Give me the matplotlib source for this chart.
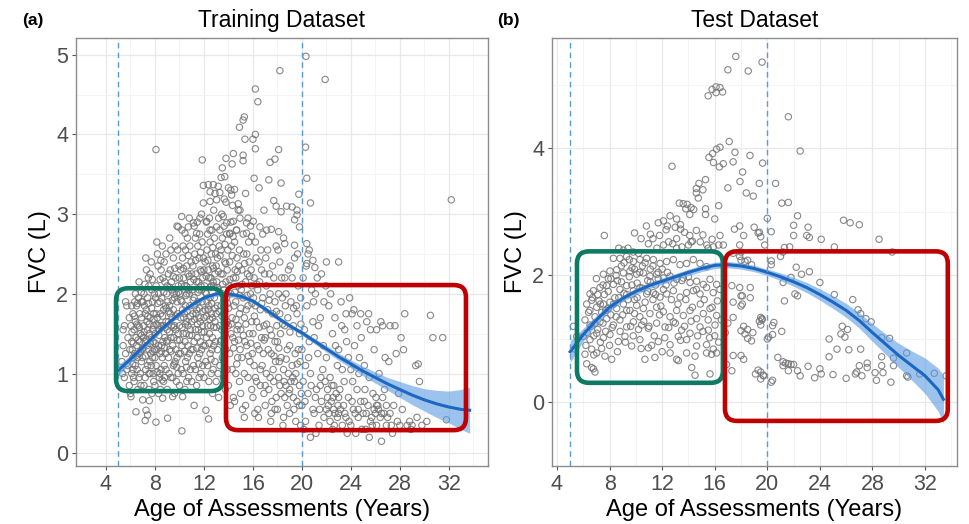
import numpy as np
import matplotlib
matplotlib.use("Agg")
import matplotlib.pyplot as plt
from matplotlib.patches import FancyBboxPatch
from matplotlib.transforms import IdentityTransform

plt.rcParams['font.family'] = ['Liberation Sans', 'DejaVu Sans']

# ---------------- training set: (age in years, FVC in L)
train_high = [
    (20.33, 4.98), (18.2, 4.80), (21.9, 4.69), (16.2, 4.57), (16.4, 4.41), (15.3, 4.22), (15.2, 4.18),
    (14.9, 4.09), (16.2, 4.00), (16.0, 3.94), (15.35, 3.94), (16.2, 3.82), (18.1, 3.81), (20.3, 3.84),
    (8.08, 3.81), (11.86, 3.68), (13.8, 3.70), (14.4, 3.76), (14.3, 3.63), (15.2, 3.74), (15.2, 3.67),
    (17.4, 3.65), (17.8, 3.69), (13.4, 3.46), (13.7, 3.47), (13.5, 3.58), (16.1, 3.45), (16.5, 3.33),
    (17.3, 3.43), (18.3, 3.39), (20.4, 3.45), (11.95, 3.36), (12.35, 3.37), (12.76, 3.37), (13.17, 3.35),
    (12.9, 3.26), (13.3, 3.27), (14.0, 3.33), (14.2, 3.30), (14.5, 3.31), (12.5, 3.28), (11.95, 3.14),
    (12.5, 3.16), (13.03, 3.18), (13.66, 3.19), (14.26, 3.24), (14.8, 3.13), (15.4, 3.26), (14.94, 3.05),
    (14.34, 3.11), (16.9, 3.05), (17.7, 3.17), (17.9, 3.10), (18.3, 3.03), (18.75, 3.10), (19.2, 3.09),
    (19.6, 3.05), (19.75, 3.25), (19.6, 2.99), (20.7, 3.14), (20.4, 2.63), (20.6, 2.55), (20.9, 2.42),
    (21.06, 2.33), (20.4, 2.38), (22.0, 2.40), (23.0, 2.40), (17.5, 2.81), (18.1, 2.78), (18.5, 2.70),
    (18.6, 2.63), (19.4, 2.61), (19.8, 2.84), (19.4, 2.93), (10.18, 2.97), (9.9, 2.84), (10.72, 2.84),
    (10.45, 2.76), (11.13, 2.89), (11.67, 2.95), (11.4, 2.76), (12.22, 2.91), (12.49, 2.80), (13.03, 2.84),
    (13.58, 2.97), (13.85, 2.89), (14.4, 2.91), (14.94, 2.95), (15.48, 2.89), (16.03, 2.91), (16.57, 2.84),
    (17.12, 2.80), (14.12, 2.76), (14.67, 2.80), (15.48, 2.76), (15.89, 2.72), (32.2, 3.18),
]

train_core = [
    # 5-6
    (5.3, 1.15), (5.4, 1.35), (5.5, 0.95), (5.5, 1.6), (5.6, 1.25), (5.7, 1.85), (5.7, 1.05), (5.8, 1.45),
    (5.9, 1.7), (5.9, 0.85), (5.4, 1.55), (5.6, 1.9), (5.8, 1.1), (5.95, 1.3), (5.35, 1.0),
    # 6-7
    (6.0, 0.75), (6.1, 1.0), (6.1, 1.4), (6.2, 1.75), (6.2, 1.2), (6.3, 0.9), (6.3, 1.55), (6.4, 2.0),
    (6.4, 1.1), (6.5, 1.35), (6.5, 1.85), (6.6, 0.8), (6.6, 1.6), (6.7, 1.25), (6.7, 2.15), (6.8, 1.0),
    (6.8, 1.5), (6.9, 1.7), (6.9, 1.15), (6.05, 1.6), (6.15, 1.3), (6.25, 0.95), (6.35, 1.9), (6.45, 1.45),
    (6.55, 1.05), (6.65, 1.95), (6.75, 1.4), (6.85, 0.85), (6.95, 1.3), (6.45, 0.52), (6.04, 0.71),
    (6.2, 1.05), (6.6, 1.2), (6.9, 1.9), (6.4, 1.65), (6.7, 0.95), (6.1, 1.85), (6.35, 1.25), (6.75, 1.75),
    # 7-8
    (7.0, 0.67), (7.0, 1.2), (7.1, 1.6), (7.1, 2.0), (7.2, 0.95), (7.2, 1.4), (7.3, 1.8), (7.3, 2.3),
    (7.4, 1.1), (7.4, 1.55), (7.5, 0.8), (7.5, 1.3), (7.5, 2.1), (7.6, 1.7), (7.6, 1.0), (7.7, 1.45),
    (7.7, 2.4), (7.8, 1.2), (7.8, 1.9), (7.9, 0.9), (7.9, 1.6), (7.05, 1.45), (7.15, 1.85), (7.25, 1.05),
    (7.35, 1.65), (7.45, 2.2), (7.55, 1.5), (7.65, 1.25), (7.75, 0.75), (7.85, 1.4), (7.95, 2.0),
    (7.27, 0.54), (7.54, 0.66), (7.1, 0.85), (7.4, 1.95), (7.7, 1.1), (7.9, 1.75), (7.2, 1.75), (7.5, 1.0),
    (7.8, 1.55), (7.6, 2.25), (7.35, 1.35), (7.85, 1.0), (7.0, 1.9), (7.95, 1.3), (7.4, 0.48), (7.2, 0.41),
    (7.25, 2.45), (7.75, 2.05),
    # 8-9
    (8.0, 0.85), (8.0, 1.5), (8.1, 1.1), (8.1, 2.1), (8.2, 1.7), (8.2, 2.5), (8.3, 0.75), (8.3, 1.35),
    (8.4, 1.9), (8.4, 1.0), (8.5, 1.6), (8.5, 2.3), (8.6, 1.2), (8.6, 2.6), (8.7, 0.9), (8.7, 1.8),
    (8.8, 1.45), (8.8, 2.15), (8.9, 1.05), (8.9, 1.65), (8.05, 1.95), (8.15, 1.3), (8.25, 2.35),
    (8.35, 1.55), (8.45, 0.8), (8.55, 1.95), (8.65, 1.4), (8.75, 2.4), (8.85, 1.25), (8.95, 2.0),
    (8.63, 0.69), (8.1, 1.75), (8.4, 1.25), (8.7, 1.6), (8.9, 2.5), (8.3, 2.0), (8.5, 1.05), (8.8, 0.95),
    (8.15, 2.65), (8.45, 1.75), (8.75, 1.1), (8.0, 1.2), (8.35, 0.95), (8.65, 2.2), (8.95, 1.4),
    (8.55, 1.35), (8.25, 1.6), (8.85, 1.85), (8.08, 0.39),
    # 9-10
    (9.0, 0.8), (9.0, 1.55), (9.1, 2.25), (9.1, 1.2), (9.2, 1.85), (9.2, 2.7), (9.3, 0.95), (9.3, 1.45),
    (9.4, 2.05), (9.4, 1.7), (9.5, 1.1), (9.5, 2.45), (9.6, 0.75), (9.6, 1.6), (9.7, 2.2), (9.7, 1.3),
    (9.8, 1.9), (9.8, 2.85), (9.9, 1.0), (9.9, 1.5), (9.05, 1.9), (9.15, 1.0), (9.25, 2.3), (9.35, 1.6),
    (9.45, 1.35), (9.55, 2.0), (9.65, 2.6), (9.75, 0.9), (9.85, 1.75), (9.95, 2.35), (9.2, 1.3),
    (9.44, 0.71), (9.6, 1.95), (9.8, 1.2), (9.0, 2.1), (9.3, 2.55), (9.5, 1.8), (9.7, 1.55), (9.9, 2.1),
    (9.1, 1.65), (9.45, 0.95), (9.65, 1.15), (9.85, 2.55), (9.25, 1.75), (9.55, 1.45), (9.95, 1.25),
    (9.35, 2.15), (9.75, 2.0), (9.03, 0.44),
    # 10-11
    (10.0, 0.85), (10.0, 1.6), (10.1, 2.3), (10.1, 1.25), (10.2, 1.9), (10.2, 2.8), (10.3, 1.0),
    (10.3, 1.5), (10.4, 2.1), (10.4, 1.75), (10.5, 1.15), (10.5, 2.55), (10.6, 0.9), (10.6, 1.65),
    (10.7, 2.25), (10.7, 1.35), (10.8, 2.0), (10.8, 2.95), (10.9, 1.05), (10.9, 1.55), (10.05, 2.0),
    (10.15, 1.05), (10.25, 2.45), (10.35, 1.7), (10.45, 1.4), (10.55, 2.1), (10.65, 2.7), (10.75, 0.95),
    (10.85, 1.85), (10.95, 2.4), (10.2, 1.35), (10.26, 0.71), (10.6, 2.0), (10.8, 1.25), (10.0, 2.2),
    (10.3, 2.6), (10.5, 1.85), (10.7, 1.6), (10.9, 2.15), (10.1, 1.7), (10.45, 0.8), (10.65, 1.2),
    (10.85, 2.6), (10.25, 1.8), (10.55, 1.5), (10.95, 1.3), (10.35, 2.2), (10.75, 2.05), (10.2, 0.28),
    (10.6, 2.35),
    # 11-12
    (11.0, 0.9), (11.0, 1.65), (11.1, 2.35), (11.1, 1.3), (11.2, 1.95), (11.2, 2.85), (11.3, 1.05),
    (11.3, 1.55), (11.4, 2.15), (11.4, 1.8), (11.5, 1.2), (11.5, 2.6), (11.6, 0.95), (11.6, 1.7),
    (11.7, 2.3), (11.7, 1.4), (11.8, 2.05), (11.8, 3.0), (11.9, 1.1), (11.9, 1.6), (11.05, 2.05),
    (11.15, 1.1), (11.25, 2.5), (11.35, 1.75), (11.45, 1.45), (11.55, 2.15), (11.65, 2.75), (11.75, 1.0),
    (11.85, 1.9), (11.95, 2.45), (11.2, 1.4), (11.4, 0.85), (11.6, 2.05), (11.8, 1.3), (11.0, 2.25),
    (11.3, 2.7), (11.5, 1.9), (11.7, 1.65), (11.9, 2.2), (11.1, 1.75), (11.45, 2.9), (11.65, 1.25),
    (11.85, 2.65), (11.25, 1.85), (11.55, 1.55), (11.95, 1.35), (11.35, 2.25), (11.75, 2.1), (11.2, 0.6),
    (11.6, 2.45),
    # 12-13
    (12.0, 0.95), (12.0, 1.7), (12.1, 2.4), (12.1, 1.35), (12.2, 2.0), (12.2, 2.9), (12.3, 1.1),
    (12.3, 1.6), (12.4, 2.2), (12.4, 1.85), (12.5, 1.25), (12.5, 2.65), (12.6, 1.0), (12.6, 1.75),
    (12.7, 2.35), (12.7, 1.45), (12.8, 2.1), (12.8, 3.05), (12.9, 1.15), (12.9, 1.65), (12.05, 2.1),
    (12.15, 1.15), (12.25, 2.55), (12.35, 1.8), (12.45, 1.5), (12.55, 2.2), (12.65, 2.8), (12.75, 1.05),
    (12.85, 1.95), (12.95, 2.5), (12.2, 1.45), (12.4, 0.9), (12.6, 2.1), (12.8, 1.35), (12.0, 2.3),
    (12.3, 2.75), (12.5, 1.95), (12.7, 1.7), (12.9, 2.25), (12.1, 1.8), (12.45, 2.95), (12.65, 1.3),
    (12.85, 2.7), (12.25, 1.9), (12.55, 1.6), (12.95, 1.4), (12.35, 2.3), (12.75, 2.15), (12.7, 0.75),
    (12.6, 2.5), (12.16, 0.54), (12.38, 0.43),
    # 13-14
    (13.0, 0.9), (13.0, 1.75), (13.1, 2.45), (13.1, 1.3), (13.2, 2.05), (13.2, 2.95), (13.3, 1.1),
    (13.3, 1.6), (13.4, 2.25), (13.4, 1.85), (13.5, 1.2), (13.5, 2.7), (13.6, 0.95), (13.6, 1.75),
    (13.7, 2.4), (13.7, 1.5), (13.8, 2.15), (13.8, 3.15), (13.9, 1.05), (13.9, 1.65), (13.05, 2.15),
    (13.15, 1.0), (13.25, 2.6), (13.35, 1.4), (13.45, 1.55), (13.55, 2.25), (13.65, 2.85), (13.75, 0.8),
    (13.85, 1.95), (13.95, 2.55), (13.2, 0.7), (13.4, 2.55), (13.6, 2.05), (13.8, 1.3), (13.0, 2.35),
    (13.3, 2.8), (13.5, 2.0), (13.7, 1.8), (13.9, 2.3), (13.1, 1.85), (13.45, 3.0), (13.65, 1.25),
    (13.85, 2.75),
    # 14-15
    (14.0, 0.85), (14.0, 1.6), (14.1, 2.4), (14.1, 1.25), (14.2, 2.0), (14.2, 2.9), (14.3, 1.05),
    (14.3, 1.7), (14.4, 2.2), (14.4, 0.7), (14.5, 1.4), (14.5, 2.65), (14.6, 1.9), (14.6, 1.0),
    (14.7, 2.45), (14.7, 1.55), (14.8, 2.1), (14.8, 3.05), (14.9, 0.9), (14.9, 1.75), (14.05, 2.1),
    (14.15, 0.6), (14.25, 2.6), (14.35, 1.45), (14.45, 1.85), (14.55, 2.3), (14.65, 2.8), (14.75, 1.2),
    (14.85, 2.35), (14.95, 1.3), (14.2, 1.5), (14.5, 0.65), (14.8, 1.6), (14.1, 2.75), (14.6, 2.2),
    (14.9, 2.55),
    # 15-16
    (15.0, 0.75), (15.0, 1.55), (15.1, 2.3), (15.1, 1.2), (15.2, 1.95), (15.2, 2.75), (15.3, 1.0),
    (15.3, 1.7), (15.4, 2.15), (15.4, 0.6), (15.5, 1.35), (15.5, 2.5), (15.6, 1.85), (15.6, 0.95),
    (15.7, 2.4), (15.7, 1.5), (15.8, 2.0), (15.8, 2.85), (15.9, 0.8), (15.9, 1.65), (15.05, 2.05),
    (15.15, 0.55), (15.25, 2.5), (15.35, 1.4), (15.45, 1.8), (15.55, 2.25), (15.65, 2.65), (15.75, 1.15),
    (15.85, 2.3), (15.95, 1.25), (15.3, 0.45), (15.6, 2.95), (15.9, 2.1),
]

# the crowded middle of the training cloud
train_dense = [
    (6.12, 1.52), (6.22, 1.38), (6.32, 1.72), (6.42, 1.22), (6.52, 1.62), (6.62, 1.42), (6.72, 1.58),
    (6.82, 1.28), (6.92, 1.48), (6.18, 1.12), (6.58, 1.88), (6.88, 2.02),
    (7.02, 1.32), (7.12, 1.52), (7.22, 1.22), (7.32, 1.42), (7.42, 1.72), (7.52, 1.62), (7.62, 1.38),
    (7.72, 1.82), (7.82, 1.28), (7.92, 1.68), (7.18, 2.12), (7.48, 1.88), (7.78, 2.18), (7.58, 1.15),
    (8.02, 1.38), (8.12, 1.62), (8.22, 1.88), (8.32, 1.48), (8.42, 2.18), (8.52, 1.28), (8.62, 1.72),
    (8.72, 2.02), (8.82, 1.58), (8.92, 1.82), (8.18, 1.02), (8.48, 2.42), (8.78, 1.32), (8.58, 0.92),
    (9.02, 1.42), (9.12, 1.78), (9.22, 2.08), (9.32, 1.28), (9.42, 1.92), (9.52, 1.58), (9.62, 2.32),
    (9.72, 1.72), (9.82, 1.42), (9.92, 2.02), (9.18, 1.52), (9.48, 2.22), (9.78, 1.08), (9.58, 1.12),
    (10.02, 1.42), (10.12, 1.92), (10.22, 1.58), (10.32, 2.32), (10.42, 1.28), (10.52, 1.98),
    (10.62, 1.78), (10.72, 2.48), (10.82, 1.48), (10.92, 1.72), (10.18, 2.12), (10.48, 1.62),
    (10.78, 2.22), (10.58, 1.08),
    (11.02, 1.48), (11.12, 1.92), (11.22, 1.68), (11.32, 2.42), (11.42, 1.32), (11.52, 2.02),
    (11.62, 1.82), (11.72, 2.52), (11.82, 1.52), (11.92, 1.78), (11.18, 2.18), (11.48, 1.62),
    (11.78, 2.28), (11.58, 1.12),
    (12.02, 1.52), (12.12, 2.02), (12.22, 1.72), (12.32, 2.42), (12.42, 1.38), (12.52, 2.08),
    (12.62, 1.88), (12.72, 2.58), (12.82, 1.58), (12.92, 1.82), (12.18, 2.22), (12.48, 1.68),
    (12.78, 2.32), (12.58, 1.18),
    (13.02, 1.58), (13.12, 2.08), (13.22, 1.78), (13.32, 2.48), (13.42, 1.42), (13.52, 2.12),
    (13.62, 1.92), (13.72, 2.62), (13.82, 1.62), (13.92, 1.88), (13.18, 2.28), (13.48, 1.72),
    (13.78, 2.38), (13.58, 1.18),
    (14.02, 1.82), (14.12, 2.18), (14.22, 1.62), (14.32, 2.48), (14.42, 1.32), (14.52, 2.02),
    (14.62, 1.68), (14.72, 2.28), (14.82, 1.42), (14.92, 1.98), (14.38, 2.72), (14.68, 1.12),
    (15.02, 1.82), (15.12, 2.12), (15.22, 1.48), (15.32, 2.38), (15.42, 1.62), (15.52, 1.98),
    (15.62, 1.22), (15.72, 2.22), (15.82, 1.38), (15.92, 1.88),
    (16.12, 1.72), (16.32, 2.12), (16.52, 1.58), (16.72, 1.88), (16.92, 1.42), (17.12, 1.62),
    (17.32, 1.92), (17.52, 1.48), (17.72, 1.22), (17.92, 1.78), (18.12, 1.32), (18.42, 1.62),
    (18.72, 1.18), (19.02, 1.52), (19.32, 1.82), (19.62, 1.12), (19.92, 1.62),
    (16.2, 0.95), (16.6, 1.05), (17.0, 0.85), (17.4, 0.95), (17.8, 0.55), (18.2, 0.85), (18.6, 0.7),
    (19.0, 0.8), (19.4, 0.9), (19.8, 0.6), (21.1, 0.7), (21.5, 0.85), (22.1, 0.7), (22.6, 0.55),
    (23.0, 0.7), (23.5, 0.5), (24.1, 0.65), (24.6, 0.55), (25.1, 0.65), (25.6, 0.4), (26.1, 0.6),
    (26.5, 0.5), (26.9, 0.6), (27.2, 0.5),
]

train_tail = [
    # 16-17
    (16.0, 0.7), (16.0, 1.5), (16.1, 2.2), (16.1, 1.1), (16.2, 1.85), (16.2, 2.65), (16.3, 0.9),
    (16.3, 1.65), (16.4, 2.05), (16.4, 0.55), (16.5, 1.3), (16.5, 2.4), (16.6, 1.8), (16.6, 0.85),
    (16.7, 2.3), (16.7, 1.45), (16.8, 1.95), (16.8, 2.75), (16.9, 0.75), (16.9, 1.6), (16.05, 1.95),
    (16.15, 0.5), (16.35, 1.35), (16.55, 2.15), (16.75, 1.1), (16.95, 2.25), (16.45, 0.45), (16.25, 2.45),
    (16.65, 2.55), (16.85, 1.25),
    # 17-18
    (17.0, 0.6), (17.0, 1.45), (17.1, 2.1), (17.1, 1.0), (17.2, 1.8), (17.2, 2.55), (17.3, 0.8),
    (17.4, 1.55), (17.4, 2.0), (17.5, 0.5), (17.5, 1.25), (17.6, 2.35), (17.6, 1.75), (17.7, 0.9),
    (17.7, 2.2), (17.8, 1.4), (17.8, 1.9), (17.9, 0.7), (17.9, 2.6), (17.05, 2.45), (17.25, 1.3),
    (17.45, 0.4), (17.65, 1.05), (17.85, 1.15), (17.35, 2.25), (17.55, 0.65), (17.95, 1.6),
    # 18-19
    (18.0, 0.55), (18.0, 1.4), (18.1, 2.0), (18.1, 0.95), (18.2, 1.75), (18.2, 2.4), (18.3, 0.75),
    (18.3, 1.2), (18.4, 1.95), (18.5, 0.45), (18.5, 1.05), (18.6, 2.2), (18.6, 1.6), (18.7, 0.85),
    (18.7, 2.0), (18.8, 1.3), (18.8, 0.6), (18.9, 2.3), (18.9, 1.0), (18.05, 2.55), (18.25, 1.5),
    (18.45, 0.35), (18.65, 1.85), (18.85, 1.7), (18.35, 2.2), (18.55, 0.9), (18.95, 0.75), (18.15, 1.15),
    # 19-20
    (19.0, 0.5), (19.0, 1.35), (19.1, 1.9), (19.1, 0.9), (19.2, 2.2), (19.2, 1.1), (19.3, 0.7),
    (19.3, 1.6), (19.4, 2.45), (19.5, 0.4), (19.5, 1.0), (19.6, 1.75), (19.6, 0.65), (19.7, 2.1),
    (19.7, 1.3), (19.8, 0.85), (19.8, 1.5), (19.9, 0.35), (19.9, 1.95), (19.05, 2.35), (19.25, 0.95),
    (19.45, 1.25), (19.65, 2.5), (19.85, 1.15), (19.35, 0.55), (19.55, 1.85), (19.95, 0.75),
    # 20-21
    (20.0, 0.6), (20.0, 1.3), (20.1, 0.9), (20.1, 2.2), (20.2, 1.55), (20.3, 0.4), (20.3, 1.1),
    (20.4, 1.85), (20.5, 0.75), (20.5, 2.5), (20.6, 1.4), (20.7, 0.2), (20.7, 1.0), (20.8, 2.05),
    (20.9, 0.55), (20.9, 1.65), (20.15, 0.3), (20.35, 2.35), (20.55, 1.2), (20.75, 0.85), (20.95, 1.9),
    (20.25, 0.65),
    # 21-22
    (21.0, 0.5), (21.0, 1.45), (21.1, 2.0), (21.2, 0.8), (21.3, 1.25), (21.4, 0.35), (21.5, 1.7),
    (21.6, 0.65), (21.6, 2.25), (21.7, 1.05), (21.8, 0.45), (21.8, 1.9), (21.9, 0.9), (21.15, 0.25),
    (21.35, 1.6), (21.55, 0.95), (21.75, 1.35), (21.95, 2.1), (21.45, 0.55), (21.25, 2.2),
    # 22-23
    (22.0, 0.55), (22.0, 1.2), (22.1, 0.8), (22.2, 1.85), (22.3, 0.4), (22.3, 0.95), (22.4, 0.65),
    (22.5, 1.5), (22.5, 0.3), (22.6, 0.85), (22.7, 0.5), (22.7, 1.7), (22.8, 0.75), (22.9, 1.1),
    (22.9, 0.45), (22.15, 0.6), (22.35, 2.0), (22.55, 0.7), (22.75, 1.35), (22.95, 0.6), (22.45, 0.85),
    (22.65, 0.35), (22.2, 0.5),
    # 23-24
    (23.0, 0.5), (23.0, 1.3), (23.1, 0.8), (23.2, 1.9), (23.3, 0.35), (23.3, 1.05), (23.4, 0.6),
    (23.5, 1.55), (23.6, 0.45), (23.6, 1.75), (23.7, 0.25), (23.8, 1.2), (23.8, 0.7), (23.9, 1.95),
    (23.15, 0.55), (23.45, 0.9), (23.65, 1.4), (23.85, 0.4), (23.25, 1.6),
    # 24-25
    (24.0, 0.35), (24.0, 1.05), (24.1, 1.75), (24.2, 0.55), (24.3, 1.35), (24.4, 0.25), (24.5, 0.8),
    (24.5, 1.6), (24.6, 0.45), (24.7, 1.2), (24.8, 0.65), (24.8, 1.75), (24.9, 0.3), (24.15, 0.9),
    (24.35, 0.5), (24.65, 1.0), (24.85, 1.45), (24.25, 1.8),
    # 25-26
    (25.0, 0.5), (25.1, 1.1), (25.2, 0.3), (25.3, 1.65), (25.4, 0.6), (25.5, 0.95), (25.5, 0.2),
    (25.6, 1.55), (25.7, 0.45), (25.8, 0.75), (25.9, 1.3), (25.9, 0.55), (25.25, 0.5), (25.45, 1.75),
    (25.75, 0.35), (25.15, 0.8),
    # 26-27
    (26.0, 0.5), (26.1, 1.55), (26.1, 0.35), (26.2, 0.6), (26.3, 1.0), (26.4, 0.45), (26.5, 0.15),
    (26.6, 0.7), (26.6, 1.6), (26.7, 0.5), (26.8, 1.2), (26.9, 0.35), (26.25, 0.55), (26.45, 1.65),
    (26.75, 0.8), (26.05, 0.7),
    # 27 and older
    (27.0, 0.45), (27.1, 1.15), (27.2, 1.6), (27.3, 0.35), (27.5, 0.6), (27.6, 1.6), (27.8, 0.4),
    (27.9, 0.75), (27.4, 0.25), (27.7, 1.25), (28.0, 0.35), (28.1, 1.45), (28.2, 0.55), (28.3, 1.3),
    (28.4, 1.75), (28.6, 0.35), (28.8, 0.4), (28.9, 0.3), (29.0, 0.35), (29.3, 1.1), (29.5, 1.12),
    (29.6, 0.9), (29.4, 0.45), (29.8, 0.35), (30.5, 1.73), (30.7, 1.45), (31.5, 1.45), (31.8, 0.42),
    (30.2, 0.4),
]

# loess fit with confidence band, training set
train_fit_age = [5, 6, 7, 8, 9, 10, 11, 12, 13, 14, 15, 16, 17, 18, 19, 20, 21, 22, 23, 24, 25, 26, 27,
                 28, 29, 30, 31, 32, 33, 33.7]
train_fit_fvc = [1.04, 1.18, 1.33, 1.48, 1.62, 1.75, 1.86, 1.95, 2.00, 2.00, 1.97, 1.91, 1.81, 1.70, 1.60,
                 1.51, 1.41, 1.31, 1.21, 1.12, 1.03, 0.95, 0.87, 0.80, 0.73, 0.67, 0.62, 0.58, 0.55, 0.54]
train_fit_se = [0.07, 0.05, 0.04, 0.03, 0.03, 0.03, 0.03, 0.03, 0.03, 0.03, 0.03, 0.03, 0.03, 0.03, 0.03,
                0.03, 0.035, 0.04, 0.045, 0.05, 0.06, 0.07, 0.08, 0.1, 0.12, 0.14, 0.17, 0.2, 0.25, 0.29]

# ---------------- test set
test_high = [
    (17.6, 5.45), (19.6, 5.36), (17.0, 5.24), (18.55, 5.22), (15.5, 4.83), (15.8, 4.93), (16.1, 4.88),
    (16.4, 4.96), (16.6, 4.89), (16.1, 4.97), (21.6, 4.5), (22.5, 3.96), (15.56, 3.86), (15.84, 3.92),
    (16.14, 3.99), (16.4, 4.02), (15.9, 3.78), (16.35, 3.71), (16.65, 3.76), (17.1, 4.11), (17.54, 3.94),
    (17.4, 3.79), (18.68, 3.89), (18.12, 3.63), (17.92, 3.48), (18.4, 3.30), (18.93, 3.25), (19.39, 3.45),
    (19.64, 3.77), (20.63, 3.45), (12.75, 3.72), (15.3, 3.51), (14.6, 3.37), (14.8, 3.45), (15.1, 3.35),
    (14.6, 3.30), (14.75, 3.22), (16.3, 3.1), (17.0, 3.38), (13.3, 3.14), (13.6, 3.13), (13.9, 3.12),
    (14.2, 3.07), (13.8, 3.05), (14.1, 2.96), (14.4, 3.04), (15.3, 3.05), (15.3, 2.96), (16.0, 2.89),
    (12.6, 2.94), (12.1, 2.86), (11.7, 2.83), (13.1, 2.89), (13.4, 2.8), (13.0, 2.76), (12.4, 2.78),
    (10.8, 2.78), (9.9, 2.67), (10.4, 2.58), (11.1, 2.65), (11.3, 2.58), (11.8, 2.63), (12.3, 2.72),
    (10.95, 2.5), (7.6, 2.63), (14.1, 2.63), (14.6, 2.71), (15.1, 2.64), (14.3, 2.54), (14.9, 2.53),
    (15.4, 2.48), (15.8, 2.57), (16.4, 2.63), (16.65, 2.48), (17.5, 2.73), (17.9, 2.78), (18.2, 2.63),
    (19.0, 2.76), (19.4, 2.68), (19.8, 2.48), (22.0, 2.63), (22.3, 2.94), (21.6, 3.15), (21.1, 3.14),
    (22.0, 2.79), (21.7, 2.45), (23.0, 2.63), (23.1, 2.76), (20.0, 2.9), (25.8, 2.87), (26.3, 2.83),
    (27.0, 2.8), (23.2, 2.6), (24.1, 2.57), (25.1, 2.45), (28.5, 2.57), (29.5, 2.37), (21.3, 2.44),
    (20.3, 2.69), (19.3, 2.67), (19.5, 2.61), (13.4, 2.73), (13.7, 2.68), (13.1, 2.58), (12.8, 2.5),
    (13.5, 2.45), (14.0, 2.48), (14.2, 2.53), (13.1, 2.43), (11.6, 2.43), (12.1, 2.48), (12.5, 2.53),
    (8.7, 2.43), (9.05, 2.4), (9.4, 2.43), (9.8, 2.37), (10.2, 2.35), (15.5, 2.43), (15.9, 2.45),
    (16.3, 2.48), (17.9, 2.48), (18.0, 2.37),
]

test_core = [
    (8.29, 2.27), (8.79, 2.27), (9.3, 2.30), (9.81, 2.22), (10.31, 2.25), (10.82, 2.27), (11.33, 2.25),
    (11.84, 2.19), (12.34, 2.22), (12.85, 2.25), (13.36, 2.17), (13.86, 2.19), (14.37, 2.25),
    (14.88, 2.19), (15.38, 2.14),
    (7.53, 2.02), (8.03, 2.07), (8.54, 2.09), (9.05, 2.04), (9.55, 2.07), (10.06, 2.02), (10.57, 2.04),
    (11.07, 1.99), (11.58, 2.02), (12.09, 1.96), (12.6, 1.99), (13.1, 1.94), (13.61, 1.96), (14.12, 1.89),
    (14.62, 1.91), (15.13, 1.86), (15.64, 1.94), (16.14, 1.86),
    (6.51, 1.71), (6.77, 1.76), (7.27, 1.81), (7.78, 1.84), (8.29, 1.86), (8.79, 1.78), (9.3, 1.84),
    (9.81, 1.76), (10.31, 1.81), (10.82, 1.71), (11.33, 1.73), (11.84, 1.66), (12.34, 1.71), (12.85, 1.76),
    (13.36, 1.66), (13.86, 1.73), (14.37, 1.76), (14.88, 1.71), (15.38, 1.81), (15.89, 1.73),
    (6.26, 1.55), (6.64, 1.61), (7.02, 1.50), (7.53, 1.55), (8.03, 1.58), (8.54, 1.48), (9.05, 1.55),
    (9.55, 1.45), (10.06, 1.53), (10.57, 1.48), (11.07, 1.40), (11.58, 1.50), (12.09, 1.43), (12.6, 1.35),
    (13.1, 1.45), (13.61, 1.37), (14.12, 1.45), (14.62, 1.32), (15.13, 1.40), (15.64, 1.48), (16.14, 1.37),
    (6.13, 1.30), (6.51, 1.22), (6.89, 1.35), (7.27, 1.27), (7.78, 1.32), (8.29, 1.22), (8.79, 1.30),
    (9.3, 1.19), (9.81, 1.27), (10.44, 1.22), (10.95, 1.17), (11.58, 1.25), (12.22, 1.19), (12.85, 1.27),
    (13.48, 1.14), (14.12, 1.09), (14.88, 1.19), (15.51, 1.14), (16.02, 1.22),
    (6.0, 1.04), (6.51, 0.99), (7.02, 1.09), (7.53, 1.02), (8.03, 1.07), (8.67, 0.96), (9.17, 1.04),
    (9.68, 0.89), (10.31, 0.99), (10.95, 0.86), (11.71, 0.96), (12.6, 0.91), (13.23, 1.04), (13.86, 0.99),
    (14.62, 0.89), (15.38, 0.91), (15.89, 0.84),
    (6.13, 0.76), (6.64, 0.84), (7.02, 0.78), (7.65, 0.73), (8.16, 0.68), (10.69, 0.68), (11.45, 0.71),
    (12.6, 0.78), (13.1, 0.68), (13.23, 0.66), (13.86, 0.78), (14.5, 0.73), (15.38, 0.78), (15.76, 0.76),
    (16.14, 0.78),
    (6.26, 0.61), (6.64, 0.55), (6.77, 0.53), (6.89, 0.48), (14.25, 0.55), (14.5, 0.43), (15.64, 0.45),
    (5.24, 1.2), (5.5, 1.04), (5.37, 0.84),
    (7.0, 1.95), (7.2, 1.6), (7.4, 1.42), (7.6, 1.7), (7.9, 1.95), (8.1, 1.38), (8.4, 1.65), (8.6, 1.92),
    (8.9, 2.15), (9.1, 1.72), (9.3, 1.45), (9.5, 1.98), (9.7, 2.12), (9.9, 1.62), (10.1, 1.88),
    (10.3, 1.35), (10.5, 2.15), (10.7, 1.58), (10.9, 1.92), (11.1, 2.1), (11.3, 1.62), (11.5, 1.85),
    (11.7, 2.05), (11.9, 1.52), (12.1, 1.78), (12.4, 2.05), (12.7, 1.62), (12.9, 1.88), (13.2, 1.55),
    (13.5, 1.92), (13.8, 1.62), (14.0, 1.98), (14.3, 1.5), (14.6, 1.78), (14.9, 1.55), (15.2, 1.62),
    (15.5, 1.3), (15.8, 1.5), (6.4, 1.42), (6.6, 1.2), (6.8, 1.05), (7.1, 1.15), (7.3, 0.95), (7.5, 1.25),
    (7.7, 1.12), (7.9, 1.48), (8.2, 1.18), (8.5, 1.35), (8.8, 1.12), (9.0, 1.38), (9.4, 1.62), (9.6, 1.2),
    (9.9, 1.4), (10.2, 1.15), (10.6, 1.28), (11.0, 1.2), (11.4, 1.05), (11.8, 1.38), (12.2, 1.02),
    (12.5, 1.18), (13.0, 1.25), (13.4, 0.98), (13.7, 1.2), (14.2, 1.28), (14.7, 1.05), (15.1, 1.12),
    (15.6, 1.02), (16.0, 1.05), (16.3, 0.95), (16.2, 1.6), (16.4, 1.78), (16.5, 1.3),
    (6.3, 1.1), (6.5, 1.45), (6.7, 1.65), (6.9, 1.25), (7.1, 1.7), (7.3, 1.55), (7.5, 1.85), (7.7, 1.45),
    (7.9, 1.75), (8.1, 1.95), (8.3, 1.55), (8.5, 2.0), (8.7, 1.65), (8.9, 1.9), (9.1, 2.2), (9.3, 1.7),
    (9.5, 2.25), (9.7, 1.85), (9.9, 2.1), (10.1, 1.65), (10.3, 2.05), (10.5, 1.8), (10.7, 2.2),
    (10.9, 1.75), (11.1, 1.9), (11.3, 2.15), (11.5, 1.7), (11.7, 1.95), (12.0, 2.1), (12.3, 1.85),
    (6.2, 0.9), (6.8, 0.75), (7.4, 0.85), (8.0, 0.9), (8.6, 0.8), (9.2, 0.95), (9.8, 1.05), (10.4, 0.85),
    (11.2, 0.9), (12.0, 0.8),
]

test_tail = [
    (17.4, 2.35), (17.9, 2.3), (18.3, 2.22), (18.8, 2.17), (17.3, 1.84), (17.9, 1.81), (18.7, 1.81),
    (18.0, 1.68), (17.4, 1.58), (18.0, 1.52), (17.4, 1.34), (18.0, 1.13), (18.5, 1.01), (18.8, 0.97),
    (18.3, 1.08), (17.4, 0.74), (18.0, 0.74), (17.3, 0.5), (19.3, 0.51), (19.7, 0.43), (19.5, 0.48),
    (19.6, 1.32), (19.5, 1.34), (20.1, 1.03), (20.5, 1.26), (18.1, 1.55), (18.1, 1.68), (18.7, 1.65),
    (19.4, 1.28), (19.6, 1.3), (19.5, 1.22), (18.2, 1.2), (18.5, 1.15), (18.9, 1.1), (20.4, 1.21),
    (20.4, 1.07), (21.1, 1.12), (20.0, 1.0), (20.3, 2.23), (21.0, 2.3), (21.2, 2.37), (18.0, 2.24),
    (18.5, 2.24), (16.8, 1.1), (16.9, 0.6), (17.0, 1.25), (19.1, 0.45), (20.3, 0.32), (20.4, 0.35),
    (18.2, 0.68), (20.8, 0.71),
    (20.3, 2.17), (21.2, 1.89), (22.2, 2.13), (22.6, 2.02), (23.2, 2.06), (21.8, 1.97), (24.0, 1.89),
    (25.1, 1.7), (21.3, 1.6), (22.1, 1.71), (22.3, 1.68), (26.5, 1.62), (26.9, 1.46), (27.1, 1.4),
    (27.5, 1.32), (27.9, 1.27), (25.7, 1.2), (26.1, 1.15), (25.6, 1.08), (25.9, 1.03), (24.7, 1.0),
    (25.3, 0.84), (26.2, 0.83), (27.1, 0.84), (24.7, 0.72), (28.7, 1.02), (29.3, 1.01), (28.7, 0.72),
    (29.6, 0.7), (30.6, 0.78), (26.7, 0.45), (27.0, 0.58), (27.6, 0.62), (27.6, 0.55), (27.2, 0.42),
    (26.8, 0.48), (28.2, 0.47), (28.8, 0.47), (28.3, 0.35), (29.4, 0.32), (28.7, 0.58), (29.6, 0.58),
    (30.6, 0.42), (30.7, 0.4), (31.6, 0.45), (32.7, 0.46), (33.6, 0.42), (21.2, 0.64), (21.4, 0.62),
    (21.6, 0.61), (21.8, 0.6), (22.0, 0.6), (21.2, 0.58), (21.6, 0.5), (22.3, 0.5), (22.5, 0.42),
    (23.1, 0.57), (23.6, 0.39), (24.1, 0.45), (24.0, 0.53), (25.0, 0.44), (26.0, 0.38), (19.5, 0.37),
    (19.7, 0.42),
]

test_fit_age = [5, 6, 7, 8, 9, 10, 11, 12, 13, 14, 15, 16, 17, 18, 19, 20, 21, 22, 23, 24, 25, 26, 27,
                28, 29, 30, 31, 32, 33, 33.4]
test_fit_fvc = [0.80, 1.07, 1.30, 1.50, 1.64, 1.75, 1.84, 1.91, 1.98, 2.05, 2.11, 2.16, 2.17, 2.15, 2.11,
                2.05, 1.98, 1.90, 1.81, 1.70, 1.58, 1.45, 1.29, 1.10, 0.92, 0.74, 0.58, 0.42, 0.20, 0.05]
test_fit_se = [0.17, 0.1, 0.07, 0.06, 0.05, 0.05, 0.05, 0.05, 0.05, 0.05, 0.05, 0.05, 0.05, 0.05, 0.05,
               0.05, 0.06, 0.07, 0.08, 0.09, 0.1, 0.11, 0.12, 0.14, 0.16, 0.19, 0.23, 0.28, 0.34, 0.38]

# hand-drawn highlight boxes (data units: x0, y0, x1, y1)
train_boxes = [((4.82, 0.78, 13.55, 2.07), '#0E7A63'), ((13.8, 0.29, 33.4, 2.11), '#C00000')]
test_boxes = [((5.52, 0.31, 16.62, 2.38), '#0E7A63'), ((16.78, -0.29, 33.73, 2.38), '#C00000')]

fig = plt.figure(figsize=(9.69, 5.24), dpi=100)
ax1 = fig.add_axes([76 / 969, 58 / 524, 412 / 969, 428 / 524])
ax2 = fig.add_axes([552 / 969, 58 / 524, 405 / 969, 428 / 524])


def draw_panel(ax, pts, fit_age, fit_fvc, fit_se, xlim, ylim, yticks, yminor, title):
    pts = np.array(pts)
    ax.scatter(pts[:, 0], pts[:, 1], s=21, facecolors='none', edgecolors='#737373',
               linewidths=0.8, alpha=0.85, zorder=2)
    age = np.array(fit_age)
    fvc = np.array(fit_fvc)
    se = np.array(fit_se)
    ax.fill_between(age, fvc - se, fvc + se, color='#5b9be3', alpha=0.6, lw=0, zorder=3)
    ax.plot(age, fvc, color='#1c68c0', lw=2.2, zorder=4)
    for v in (5, 20):
        ax.axvline(v, color='#5b9bd5', lw=1.0, ls=(0, (4, 3)), zorder=5)

    ax.set_xlim(*xlim)
    ax.set_ylim(*ylim)
    ax.set_xticks(range(4, 33, 4))
    ax.set_xticks(range(6, 35, 4), minor=True)
    ax.set_yticks(yticks)
    ax.set_yticks(yminor, minor=True)
    ax.grid(which='major', color='#e8e8e8', lw=0.9, zorder=0)
    ax.grid(which='minor', color='#f3f3f3', lw=0.6, zorder=0)
    ax.set_axisbelow(True)
    ax.tick_params(which='major', length=3, width=0.8, color='#555555', labelcolor='#4d4d4d',
                   labelsize=15.5, pad=2.5)
    ax.tick_params(which='minor', length=0)
    for s in ax.spines.values():
        s.set_color('#8c8c8c')
        s.set_linewidth(1.0)
    ax.set_xlabel('Age of Assessments (Years)', fontsize=17, labelpad=3)
    ax.set_ylabel('FVC (L)', fontsize=17, labelpad=3.5)
    ax.set_title(title, fontsize=16.5, pad=8)


def draw_boxes(ax, boxes):
    for (x0, y0, x1, y1), color in boxes:
        (px0, py0), (px1, py1) = ax.transData.transform([(x0, y0), (x1, y1)])
        r = 12
        box = FancyBboxPatch((px0 + r, py0 + r), px1 - px0 - 2 * r, py1 - py0 - 2 * r,
                             boxstyle=f"round,pad={r}", transform=IdentityTransform(),
                             fill=False, edgecolor=color, linewidth=3.3, zorder=10)
        fig.add_artist(box)


draw_panel(ax1, train_high + train_core + train_dense + train_tail, train_fit_age, train_fit_fvc,
           train_fit_se, (1.55, 35.2), (-0.16, 5.21), [0, 1, 2, 3, 4, 5], np.arange(0.5, 5.1, 1.0),
           'Training Dataset')
draw_panel(ax2, test_high + test_core + test_tail, test_fit_age, test_fit_fvc, test_fit_se,
           (3.62, 34.43), (-0.85, 5.74), [0, 2, 4], [-1, 1, 3, 5], 'Test Dataset')

draw_boxes(ax1, train_boxes)
draw_boxes(ax2, test_boxes)

fig.text(22 / 969, 1 - 25 / 524, '(a)', fontsize=12.5, fontweight='bold', va='baseline')
fig.text(497 / 969, 1 - 25 / 524, '(b)', fontsize=12.5, fontweight='bold', va='baseline')

fig.savefig('out.png', dpi=100)
